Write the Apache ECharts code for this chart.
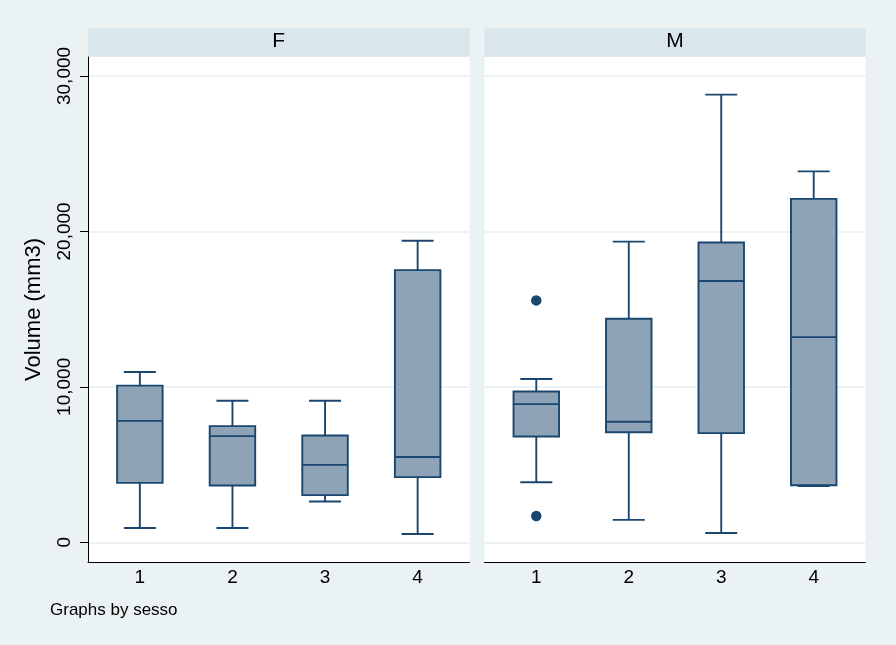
<!DOCTYPE html>
<html>
<head>
<meta charset="utf-8">
<script src="https://cdn.jsdelivr.net/npm/echarts@6/dist/echarts.min.js"></script>
<style>
  html, body { margin: 0; padding: 0; background: #EAF2F3; }
  #chart { width: 896px; height: 645px; }
</style>
</head>
<body>
<div id="chart"></div>
<script>
// ---- data ----
const categories = ['1', '2', '3', '4'];
const panels = ['F', 'M'];
const F_low  = [920, 920, 2620, 530];
const F_q1   = [3820, 3650, 3030, 4190];
const F_med  = [7810, 6830, 4980, 5490];
const F_q3   = [10080, 7470, 6870, 17510];
const F_high = [10950, 9100, 9100, 19400];
const M_low  = [3860, 1440, 600, 3620];
const M_q1   = [6800, 7080, 7020, 3670];
const M_med  = [8890, 7750, 16810, 13200];
const M_q3   = [9700, 14380, 19290, 22090];
const M_high = [10500, 19340, 28800, 23860];
const M_outlierCat = [1, 1];
const M_outlierVal = [15560, 1690];
const yTicks = [0, 10000, 20000, 30000];
const yTitle = 'Volume (mm3)';
const note = 'Graphs by sesso';

// ---- styling ----
const NAVY = '#1A476F';
const FILL = '#8EA3B6';
const GRIDC = '#E6EEF1';
const FONT = 'Liberation Sans, Arial, sans-serif';

function boxData(lo, q1, md, q3, hi) {
  return categories.map((c, i) => [i + 1, lo[i], q1[i], md[i], q3[i], hi[i]]);
}

function renderBox(params, api) {
  const x = api.value(0);
  const lo = api.coord([x, api.value(1)]);
  const q1 = api.coord([x, api.value(2)]);
  const md = api.coord([x, api.value(3)]);
  const q3 = api.coord([x, api.value(4)]);
  const hi = api.coord([x, api.value(5)]);
  const bw = 45.5, cw = 32;
  const cx = lo[0];
  const ls = { stroke: NAVY, lineWidth: 1.9, fill: null };
  return {
    type: 'group',
    children: [
      { type: 'line', shape: { x1: cx, y1: hi[1], x2: cx, y2: q3[1] }, style: ls },
      { type: 'line', shape: { x1: cx, y1: q1[1], x2: cx, y2: lo[1] }, style: ls },
      { type: 'line', shape: { x1: cx - cw / 2, y1: hi[1], x2: cx + cw / 2, y2: hi[1] }, style: ls },
      { type: 'line', shape: { x1: cx - cw / 2, y1: lo[1], x2: cx + cw / 2, y2: lo[1] }, style: ls },
      { type: 'rect', shape: { x: cx - bw / 2, y: q3[1], width: bw, height: q1[1] - q3[1] },
        style: { fill: FILL, stroke: NAVY, lineWidth: 1.9 } },
      { type: 'line', shape: { x1: cx - bw / 2, y1: md[1], x2: cx + bw / 2, y2: md[1] }, style: ls }
    ]
  };
}

function xAxisDef(gi) {
  return {
    type: 'value', gridIndex: gi, min: 0.44, max: 4.56,
    axisLine: { show: true, onZero: false, lineStyle: { color: '#000', width: 1 } },
    axisTick: { show: false },
    splitLine: { show: false },
    axisLabel: {
      customValues: categories.map((c, i) => i + 1),
      formatter: v => categories[Math.round(v) - 1] || '',
      color: '#000', fontFamily: FONT, fontSize: 19, margin: 6
    }
  };
}

function yAxisDef(gi, showLabels) {
  return {
    type: 'value', gridIndex: gi, min: -1270, max: 31220,
    name: showLabels ? yTitle : '',
    nameLocation: 'middle', nameGap: 43,
    nameTextStyle: { color: '#000', fontFamily: FONT, fontSize: 22 },
    axisLine: { show: showLabels, onZero: false, lineStyle: { color: '#000', width: 1 } },
    axisTick: { show: showLabels, length: 8, customValues: yTicks, lineStyle: { color: '#000' } },
    axisLabel: {
      show: showLabels, customValues: yTicks, rotate: 90,
      formatter: v => Number(v).toLocaleString('en-US'),
      color: '#000', fontFamily: FONT, fontSize: 19, margin: 14
    },
    splitLine: { show: true, lineStyle: { color: GRIDC, width: 1.6 } }
  };
}

const gridsPx = [
  { left: 88, top: 57, width: 381.5, height: 505 },
  { left: 484.5, top: 57, width: 381, height: 505 }
];

const chart = echarts.init(document.getElementById('chart'), null, { renderer: 'canvas' });
chart.setOption({
  backgroundColor: '#EAF2F3',
  animation: false,
  title: [
    { text: panels[0], left: 278.75, top: 31, padding: 0, textAlign: 'center',
      textStyle: { color: '#000', fontFamily: FONT, fontSize: 21, fontWeight: 'normal' } },
    { text: panels[1], left: 675, top: 31, padding: 0, textAlign: 'center',
      textStyle: { color: '#000', fontFamily: FONT, fontSize: 21, fontWeight: 'normal' } },
    { text: note, left: 50, top: 602, padding: 0,
      textStyle: { color: '#000', fontFamily: FONT, fontSize: 17, fontWeight: 'normal' } }
  ],
  graphic: [
    { type: 'rect', z: -1, shape: { x: 88, y: 28, width: 381.5, height: 28.7 }, style: { fill: '#D9E6EB' } },
    { type: 'rect', z: -1, shape: { x: 484.5, y: 28, width: 381, height: 28.7 }, style: { fill: '#D9E6EB' } }
  ],
  grid: gridsPx.map(g => Object.assign({ show: true, backgroundColor: '#fff', borderWidth: 0 }, g)),
  xAxis: [xAxisDef(0), xAxisDef(1)],
  yAxis: [yAxisDef(0, true), yAxisDef(1, false)],
  series: [
    { type: 'custom', name: panels[0], xAxisIndex: 0, yAxisIndex: 0, clip: false,
      encode: { x: 0, y: [1, 2, 3, 4, 5] },
      data: boxData(F_low, F_q1, F_med, F_q3, F_high), renderItem: renderBox },
    { type: 'custom', name: panels[1], xAxisIndex: 1, yAxisIndex: 1, clip: false,
      encode: { x: 0, y: [1, 2, 3, 4, 5] },
      data: boxData(M_low, M_q1, M_med, M_q3, M_high), renderItem: renderBox },
    { type: 'scatter', xAxisIndex: 1, yAxisIndex: 1, symbol: 'circle', symbolSize: 10.5,
      itemStyle: { color: NAVY, opacity: 1 },
      data: M_outlierCat.map((c, i) => [c, M_outlierVal[i]]) }
  ]
});
</script>
</body>
</html>
